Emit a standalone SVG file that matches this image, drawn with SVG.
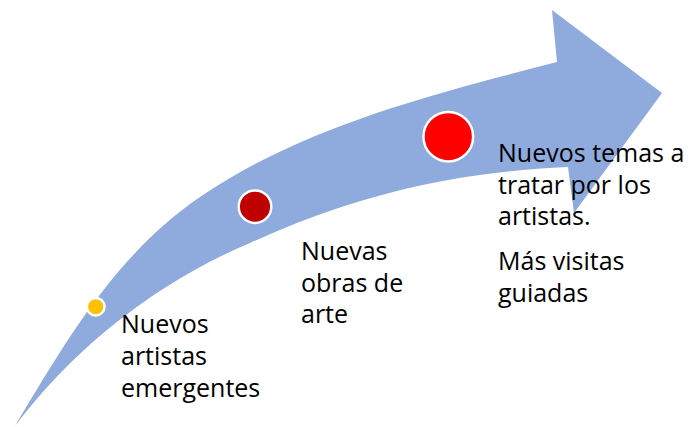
<svg xmlns="http://www.w3.org/2000/svg" width="689" height="427" viewBox="0 0 689 427">
<style>
.lbl{font-family:"Open Sans","Noto Sans","Liberation Sans",sans-serif;font-size:25px;fill:#000}
.dot{stroke:#fff;stroke-width:2.5}
</style>
<rect width="689" height="427" fill="#fff"/>
<g id="arrow">
<path fill="#8FAADC" d="M15,426 C67,339 117,253.4 200,197 C305,125.6 434,94 557,62 L552,10 L662,93 L574,213 L568,167 C450,172 350,197 250,243 C158,281.6 76,345.7 15,426 Z"/>
</g>
<g id="connectors"></g>
<g id="node1">
<circle class="dot" cx="95.7" cy="306.7" r="8.8" fill="#FFC000"/>
<text class="lbl"><tspan x="121" y="333">Nuevos</tspan><tspan x="121" y="365">artistas</tspan><tspan x="121" y="397">emergentes</tspan></text>
</g>
<g id="node2">
<circle class="dot" cx="255" cy="206.7" r="16.3" fill="#C00000"/>
<text class="lbl"><tspan x="301" y="260">Nuevas</tspan><tspan x="301" y="292">obras de</tspan><tspan x="301" y="323">arte</tspan></text>
</g>
<g id="node3">
<circle class="dot" cx="448.3" cy="136.7" r="24.8" fill="#FF0000"/>
<text class="lbl"><tspan x="498" y="162">Nuevos temas a</tspan><tspan x="498" y="193.5">tratar por los</tspan><tspan x="498" y="225">artistas.</tspan><tspan x="498" y="270">Más visitas</tspan><tspan x="498" y="302">guiadas</tspan></text>
</g>
</svg>
